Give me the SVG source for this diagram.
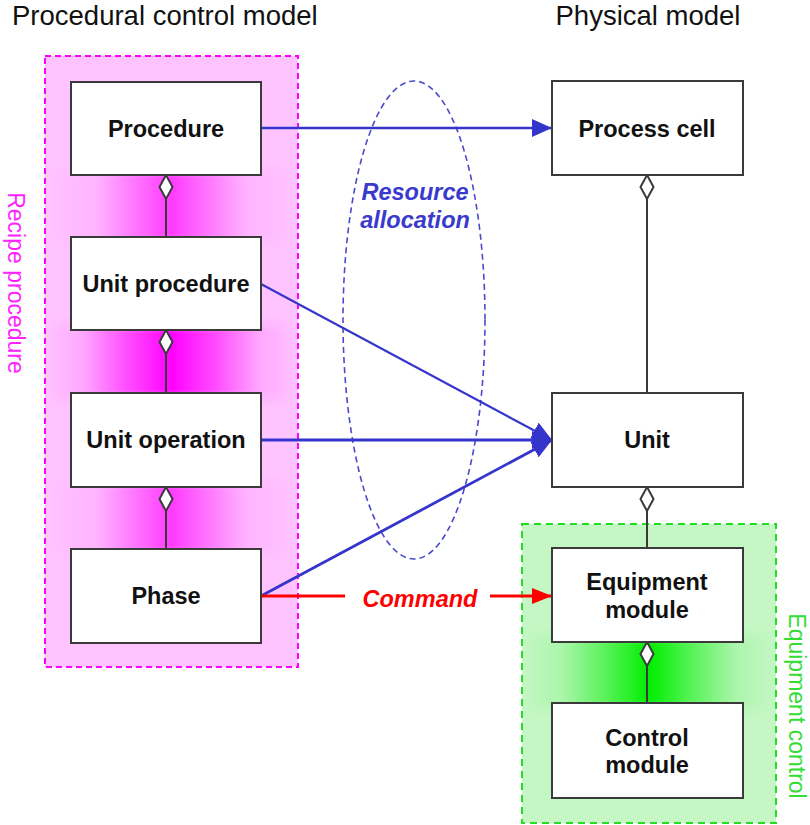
<svg xmlns="http://www.w3.org/2000/svg" width="810" height="825" viewBox="0 0 810 825">
  <style>
    .box { fill: #ffffff; stroke: #3a3a3a; stroke-width: 2; }
    .lbl { font-family: "Liberation Sans", Arial, sans-serif; font-weight: bold; font-size: 23.5px; fill: #111111; text-anchor: middle; }
    .title { font-family: "Liberation Sans", Arial, sans-serif; font-size: 27.5px; fill: #111111; }
    .agg { stroke: #3a3a3a; stroke-width: 2; fill: none; }
    .dia { fill: #ffffff; stroke: #3a3a3a; stroke-width: 2; }
    .blue { stroke: #3535cc; fill: none; }
    .ital { font-family: "Liberation Sans", Arial, sans-serif; font-weight: bold; font-style: italic; font-size: 23.5px; text-anchor: middle; }
    .side { font-family: "Liberation Sans", Arial, sans-serif; font-size: 23px; text-anchor: middle; }
  </style>
  <defs>
    <marker id="ab" markerUnits="userSpaceOnUse" markerWidth="20" markerHeight="18" refX="20" refY="9" orient="auto">
      <path d="M0,0 L20,9 L0,18 z" fill="#3535cc"/>
    </marker>
    <marker id="ar" markerUnits="userSpaceOnUse" markerWidth="20" markerHeight="16" refX="20" refY="8" orient="auto">
      <path d="M0,0 L20,8 L0,16 z" fill="#ff0000"/>
    </marker>
    <linearGradient id="gmSoft" x1="0" y1="0" x2="1" y2="0">
      <stop offset="0" stop-color="#ff00ff" stop-opacity="0"/>
      <stop offset="0.2" stop-color="#ff00ff" stop-opacity="0.08"/>
      <stop offset="0.5" stop-color="#ff00ff" stop-opacity="0.7"/>
      <stop offset="0.8" stop-color="#ff00ff" stop-opacity="0.08"/>
      <stop offset="1" stop-color="#ff00ff" stop-opacity="0"/>
    </linearGradient>
    <linearGradient id="gmStrong" x1="0" y1="0" x2="1" y2="0">
      <stop offset="0" stop-color="#ff00ff" stop-opacity="0"/>
      <stop offset="0.15" stop-color="#ff00ff" stop-opacity="0.15"/>
      <stop offset="0.32" stop-color="#ff00ff" stop-opacity="0.6"/>
      <stop offset="0.5" stop-color="#ff00ff" stop-opacity="1"/>
      <stop offset="0.68" stop-color="#ff00ff" stop-opacity="0.6"/>
      <stop offset="0.85" stop-color="#ff00ff" stop-opacity="0.15"/>
      <stop offset="1" stop-color="#ff00ff" stop-opacity="0"/>
    </linearGradient>
    <linearGradient id="gg" x1="0" y1="0" x2="1" y2="0">
      <stop offset="0" stop-color="#00ee00" stop-opacity="0"/>
      <stop offset="0.15" stop-color="#00ee00" stop-opacity="0.12"/>
      <stop offset="0.33" stop-color="#00ee00" stop-opacity="0.55"/>
      <stop offset="0.5" stop-color="#00ee00" stop-opacity="1"/>
      <stop offset="0.67" stop-color="#00ee00" stop-opacity="0.55"/>
      <stop offset="0.85" stop-color="#00ee00" stop-opacity="0.12"/>
      <stop offset="1" stop-color="#00ee00" stop-opacity="0"/>
    </linearGradient>
    <linearGradient id="vfade" x1="0" y1="0" x2="0" y2="1">
      <stop offset="0" stop-color="#fff" stop-opacity="0"/>
      <stop offset="0.2" stop-color="#fff" stop-opacity="1"/>
      <stop offset="0.8" stop-color="#fff" stop-opacity="1"/>
      <stop offset="1" stop-color="#fff" stop-opacity="0"/>
    </linearGradient>
    <mask id="mfade" maskContentUnits="objectBoundingBox">
      <rect x="0" y="0" width="1" height="1" fill="url(#vfade)"/>
    </mask>
  </defs>

  <!-- titles -->
  <text class="title" x="12" y="25">Procedural control model</text>
  <text class="title" x="648" y="25" text-anchor="middle">Physical model</text>

  <!-- recipe procedure region -->
  <g id="recipe-procedure">
    <rect x="45" y="56" width="253" height="611" fill="#ffc4ff"/>
    <rect x="46" y="160" width="251" height="92" fill="url(#gmSoft)" mask="url(#mfade)"/>
    <rect x="46" y="315" width="251" height="93" fill="url(#gmStrong)" mask="url(#mfade)"/>
    <rect x="46" y="472" width="251" height="92" fill="url(#gmSoft)" mask="url(#mfade)"/>
    <rect x="45" y="56" width="253" height="611" fill="none" stroke="#ff00ff" stroke-width="2" stroke-dasharray="6,4"/>
    <text class="side" fill="#ff22ff" transform="translate(8,283) rotate(90)">Recipe procedure</text>
  </g>

  <!-- equipment control region -->
  <g id="equipment-control">
    <rect x="522" y="524" width="254" height="299" fill="#c4f7c4"/>
    <rect x="523" y="627" width="252" height="91" fill="url(#gg)" mask="url(#mfade)"/>
    <rect x="522" y="524" width="254" height="299" fill="none" stroke="#22dd22" stroke-width="2" stroke-dasharray="7,5"/>
    <text class="side" fill="#33dd33" transform="translate(789,706) rotate(90)">Equipment control</text>
  </g>

  <!-- resource allocation ellipse -->
  <g id="resource-allocation">
    <ellipse cx="414" cy="320" rx="71" ry="239" fill="none" stroke="#4a4acc" stroke-width="1.6" stroke-dasharray="6,4"/>
    <text class="ital" fill="#3a3acc" x="415" y="200">Resource</text>
    <text class="ital" fill="#3a3acc" x="415" y="228">allocation</text>
  </g>

  <!-- connectors -->
  <g id="connectors">
    <path class="agg" d="M166,199 V237 M166,354 V393 M166,511 V549 M647,199 V393 M647,511 V548 M647,666 V703"/>
    <path class="dia" d="M166,175 L172.5,187 L166,199 L159.5,187 z"/>
    <path class="dia" d="M166,330 L172.5,342 L166,354 L159.5,342 z"/>
    <path class="dia" d="M166,487 L172.5,499 L166,511 L159.5,499 z"/>
    <path class="dia" d="M647,175 L653.5,187 L647,199 L640.5,187 z"/>
    <path class="dia" d="M647,487 L653.5,499 L647,511 L640.5,499 z"/>
    <path class="dia" d="M647,642 L653.5,654 L647,666 L640.5,654 z"/>
    <line class="blue" x1="261" y1="128" x2="552" y2="128" stroke-width="2.5" marker-end="url(#ab)"/>
    <line class="blue" x1="261" y1="284" x2="552" y2="440" stroke-width="2.2" marker-end="url(#ab)"/>
    <line class="blue" x1="261" y1="440" x2="552" y2="440" stroke-width="3" marker-end="url(#ab)"/>
    <line class="blue" x1="261" y1="596" x2="552" y2="440" stroke-width="2.8" marker-end="url(#ab)"/>
    <line x1="261" y1="596" x2="345" y2="596" stroke="#ff0000" stroke-width="3"/>
    <line x1="490" y1="596" x2="552" y2="596" stroke="#ff0000" stroke-width="3" marker-end="url(#ar)"/>
    <text class="ital" fill="#ff0000" x="420" y="607">Command</text>
  </g>

  <!-- nodes -->
  <g id="procedure">
    <rect class="box" x="71" y="82" width="190" height="93"/>
    <text class="lbl" x="166" y="137">Procedure</text>
  </g>
  <g id="unit-procedure">
    <rect class="box" x="71" y="237" width="190" height="93"/>
    <text class="lbl" x="166" y="292">Unit procedure</text>
  </g>
  <g id="unit-operation">
    <rect class="box" x="71" y="393" width="190" height="94"/>
    <text class="lbl" x="166" y="448">Unit operation</text>
  </g>
  <g id="phase">
    <rect class="box" x="71" y="549" width="190" height="94"/>
    <text class="lbl" x="166" y="604">Phase</text>
  </g>
  <g id="process-cell">
    <rect class="box" x="552" y="81" width="191" height="94"/>
    <text class="lbl" x="647" y="137">Process cell</text>
  </g>
  <g id="unit">
    <rect class="box" x="552" y="393" width="191" height="94"/>
    <text class="lbl" x="647" y="448">Unit</text>
  </g>
  <g id="equipment-module">
    <rect class="box" x="552" y="548" width="191" height="94"/>
    <text class="lbl" x="647" y="590">Equipment</text>
    <text class="lbl" x="647" y="618">module</text>
  </g>
  <g id="control-module">
    <rect class="box" x="552" y="703" width="191" height="95"/>
    <text class="lbl" x="647" y="746">Control</text>
    <text class="lbl" x="647" y="773">module</text>
  </g>
</svg>
